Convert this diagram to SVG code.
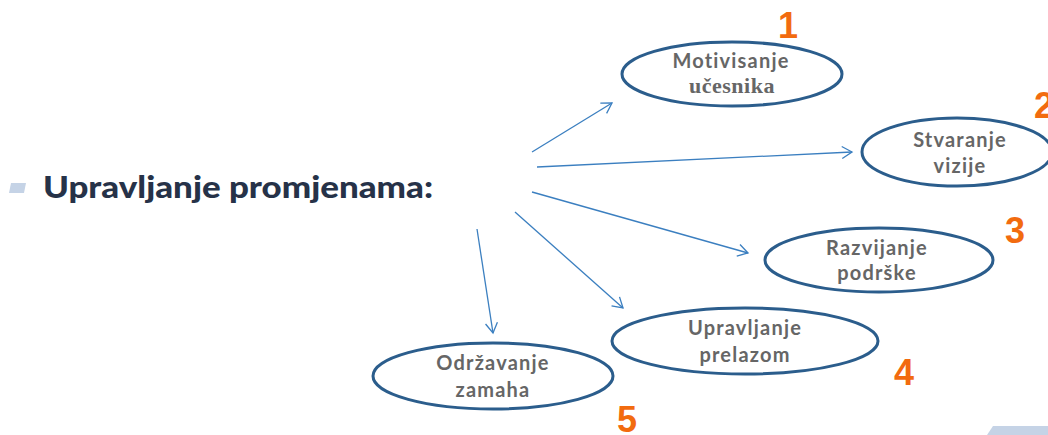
<svg xmlns="http://www.w3.org/2000/svg" width="1048" height="435" viewBox="0 0 1048 435">
<defs>
<marker id="arr" markerWidth="14" markerHeight="14" refX="12" refY="7" orient="auto" markerUnits="userSpaceOnUse">
<path d="M2,1 L12,7 L2,13" fill="none" stroke="#3b7fc0" stroke-width="1.3"/>
</marker>
<style>
.el{fill:#fff;stroke:#2b5d8c;stroke-width:3}
.t{font-family:Lato,"Open Sans",sans-serif;font-weight:bold;font-size:20px;letter-spacing:1.2px;fill:#666;text-anchor:middle}
.s{font-family:"Liberation Serif","DejaVu Serif",serif;font-weight:bold;font-size:22px;letter-spacing:0.5px;fill:#666;text-anchor:middle}
.n{font-family:"Liberation Sans",Arial,sans-serif;font-weight:bold;font-size:36px;fill:#f26b0f;text-anchor:middle}
.c{stroke:#3b7fc0;stroke-width:1.3;fill:none}
</style>
</defs>
<rect width="1048" height="435" fill="#fff"/>
<polygon points="987,435 993,426 1048,426 1048,435" fill="#c5d3e6"/>
<g id="title">
<polygon points="11,183 26,183 24,193 9,193" fill="#c5d3e6"/>
<text x="43" y="198" font-family="Lato,'Open Sans',sans-serif" font-weight="900" font-size="30" fill="#263248" textLength="390" lengthAdjust="spacingAndGlyphs">Upravljanje promjenama:</text>
</g>
<g id="connectors">
<line class="c" x1="532" y1="152" x2="612" y2="103" marker-end="url(#arr)"/>
<line class="c" x1="537" y1="167" x2="852" y2="152" marker-end="url(#arr)"/>
<line class="c" x1="532" y1="192" x2="748" y2="253" marker-end="url(#arr)"/>
<line class="c" x1="515" y1="212" x2="623" y2="308" marker-end="url(#arr)"/>
<line class="c" x1="477" y1="229" x2="493" y2="333" marker-end="url(#arr)"/>
</g>
<g id="node1">
<ellipse class="el" cx="732" cy="74" rx="110" ry="32"/>
<text class="t" x="731" y="68">Motivisanje</text>
<text class="s" x="732" y="93">učesnika</text>
<text class="n" x="788" y="38">1</text>
</g>
<g id="node2">
<ellipse class="el" cx="957" cy="152" rx="95" ry="34"/>
<text class="t" x="960" y="147">Stvaranje</text>
<text class="t" x="960" y="173">vizije</text>
<text class="n" x="1044" y="118">2</text>
</g>
<g id="node3">
<ellipse class="el" cx="879" cy="260" rx="114" ry="32"/>
<text class="t" x="877" y="255">Razvijanje</text>
<text class="t" x="877" y="280">podrške</text>
<text class="n" x="1015" y="243">3</text>
</g>
<g id="node4">
<ellipse class="el" cx="745" cy="341" rx="133" ry="33"/>
<text class="t" x="745" y="335">Upravljanje</text>
<text class="t" x="745" y="362">prelazom</text>
<text class="n" x="904" y="385">4</text>
</g>
<g id="node5">
<ellipse class="el" cx="493" cy="376" rx="120" ry="33"/>
<text class="t" x="493" y="370">Održavanje</text>
<text class="t" x="493" y="397">zamaha</text>
<text class="n" x="627" y="432">5</text>
</g>
</svg>
